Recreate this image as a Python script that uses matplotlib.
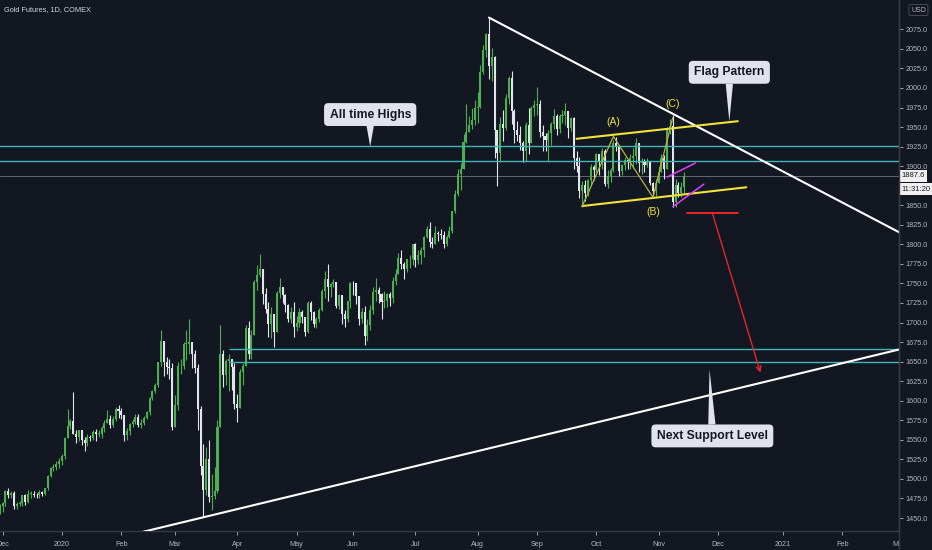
import numpy as np
import pandas as pd
import matplotlib
matplotlib.use('Agg')
import matplotlib.pyplot as plt
from matplotlib import font_manager
from matplotlib.lines import Line2D
from matplotlib.transforms import Bbox, TransformedBbox, blended_transform_factory

# daily bars of Gold futures, one row per week (Nov 2019 - Nov 2020)
first_open = 1452
close = [
    1456, 1461, 1455, 1465,
    1469, 1484, 1479, 1482, 1465,
    1468, 1469, 1479, 1471, 1481,
    1481, 1480, 1479, 1483, 1481,
    1488, 1504, 1514, 1515,
    1519, 1523, 1529, 1552,
    1568, 1574, 1557, 1554, 1562,
    1550, 1546, 1554, 1552, 1560,
    1558, 1558, 1565, 1571,
    1577, 1569, 1576, 1590, 1587,
    1582, 1556, 1561, 1570, 1573,
    1579, 1569, 1571, 1578, 1586,
    1603, 1612, 1620, 1649,
    1676, 1650, 1643, 1642, 1566,
    1594, 1644, 1645, 1673, 1673,
    1675, 1660, 1642, 1590, 1516,
    1486, 1526, 1477, 1478, 1484,
    1567, 1660, 1633, 1651, 1654,
    1643, 1596, 1591, 1637, 1645,
    1693, 1660, 1684, 1752,
    1761, 1769, 1737, 1717, 1698,
    1711, 1688, 1738, 1745, 1735,
    1723, 1705, 1713, 1694, 1700,
    1713, 1707, 1688, 1725, 1713,
    1698, 1704, 1716, 1740, 1756,
    1745, 1749, 1752, 1721, 1735,
    1711, 1705, 1727, 1751,
    1750, 1734, 1704, 1714, 1683,
    1697, 1716, 1739, 1742, 1737,
    1726, 1728, 1736, 1731, 1753,
    1762, 1782, 1775, 1768, 1781,
    1781, 1800, 1780, 1787,
    1793, 1809, 1820, 1803, 1801,
    1814, 1813, 1812, 1800, 1810,
    1817, 1843, 1865, 1890, 1897,
    1931, 1944, 1953, 1959, 1975,
    1976, 2021, 2049, 2069, 2028,
    2039, 1946, 1917, 1954, 1949,
    1987, 2013, 1970, 1946, 1940,
    1929, 1919, 1953, 1930, 1975,
    1978, 1979, 1944, 1938, 1934,
    1943, 1954, 1964, 1947,
    1964, 1966, 1970, 1949, 1962,
    1910, 1900, 1868, 1876, 1866,
    1882, 1899, 1895, 1916, 1907,
    1920, 1877, 1887, 1895, 1930,
    1925, 1894, 1901, 1908, 1906,
    1911, 1913, 1929, 1904, 1905,
    1901, 1907, 1878, 1868, 1879,
    1892, 1910, 1896, 1946, 1951,
    1854, 1876, 1866, 1873, 1887.6,
]
high = [
    1463, 1465, 1463, 1468,
    1471, 1486, 1488, 1485, 1485,
    1470, 1472, 1480, 1481, 1486,
    1484, 1484, 1482, 1486, 1484,
    1489, 1505, 1515, 1519,
    1523, 1527, 1532, 1553,
    1590, 1577, 1611, 1562, 1563,
    1563, 1553, 1558, 1556, 1563,
    1564, 1562, 1568, 1575,
    1588, 1582, 1580, 1592, 1594,
    1591, 1582, 1565, 1571, 1577,
    1583, 1583, 1576, 1580, 1587,
    1605, 1614, 1623, 1650,
    1691, 1677, 1656, 1653, 1648,
    1607, 1650, 1653, 1675, 1690,
    1704, 1673, 1665, 1647, 1593,
    1545, 1541, 1550, 1506, 1515,
    1575, 1697, 1665, 1654, 1660,
    1648, 1648, 1609, 1640, 1648,
    1697, 1702, 1690, 1755,
    1773, 1788, 1766, 1744, 1726,
    1720, 1711, 1740, 1757, 1745,
    1737, 1724, 1720, 1726, 1708,
    1719, 1716, 1705, 1728, 1727,
    1715, 1707, 1719, 1743, 1766,
    1775, 1750, 1756, 1751, 1737,
    1732, 1716, 1728, 1752,
    1753, 1749, 1727, 1719, 1721,
    1704, 1723, 1745, 1757, 1745,
    1738, 1740, 1738, 1739, 1758,
    1768, 1789, 1793, 1777, 1781,
    1786, 1801, 1802, 1793,
    1796, 1811, 1823, 1829, 1809,
    1823, 1817, 1819, 1817, 1812,
    1823, 1843, 1869, 1897, 1904,
    1941, 1980, 1964, 1975, 1985,
    1995, 2029, 2055, 2070, 2089,
    2051, 2041, 1945, 1963, 1972,
    1992, 2015, 2022, 1973, 1958,
    1951, 1932, 1956, 1974, 1977,
    1984, 2001, 1984, 1953, 1943,
    1946, 1957, 1973, 1967,
    1967, 1972, 1981, 1970, 1963,
    1963, 1919, 1912, 1881, 1882,
    1884, 1903, 1902, 1917, 1913,
    1923, 1922, 1895, 1898, 1933,
    1937, 1925, 1903, 1912, 1909,
    1916, 1923, 1936, 1930, 1910,
    1909, 1911, 1907, 1880, 1883,
    1900, 1915, 1914, 1950, 1960,
    1965, 1884, 1880, 1880, 1892,
]
low = [
    1451, 1453, 1452, 1455,
    1458, 1466, 1476, 1476, 1461,
    1462, 1465, 1466, 1467, 1469,
    1476, 1477, 1476, 1475, 1478,
    1479, 1486, 1503, 1510,
    1511, 1514, 1518, 1526,
    1553, 1564, 1560, 1546, 1548,
    1544, 1536, 1542, 1549, 1550,
    1548, 1554, 1552, 1560,
    1572, 1565, 1567, 1574, 1578,
    1576, 1549, 1550, 1556, 1566,
    1570, 1566, 1565, 1569, 1576,
    1582, 1601, 1610, 1618,
    1644, 1632, 1634, 1628, 1563,
    1572, 1588, 1634, 1640, 1652,
    1660, 1642, 1636, 1563, 1505,
    1451, 1479, 1470, 1460, 1474,
    1482, 1583, 1618, 1620, 1612,
    1614, 1590, 1573, 1594, 1620,
    1645, 1654, 1654, 1686,
    1742, 1758, 1724, 1712, 1681,
    1680, 1669, 1693, 1731, 1725,
    1714, 1701, 1699, 1682, 1689,
    1694, 1699, 1683, 1686, 1703,
    1694, 1693, 1701, 1715, 1732,
    1728, 1733, 1746, 1718, 1717,
    1698, 1694, 1701, 1718,
    1735, 1724, 1697, 1700, 1671,
    1676, 1690, 1711, 1727, 1725,
    1704, 1718, 1720, 1721, 1725,
    1748, 1762, 1769, 1756, 1765,
    1770, 1773, 1771, 1775,
    1775, 1784, 1808, 1796, 1795,
    1805, 1804, 1807, 1795, 1798,
    1808, 1815, 1840, 1862, 1870,
    1902, 1929, 1945, 1947, 1953,
    1955, 1974, 2018, 2040, 2012,
    2009, 1911, 1874, 1905, 1932,
    1946, 1980, 1954, 1930, 1932,
    1921, 1905, 1907, 1916, 1930,
    1964, 1965, 1937, 1920, 1919,
    1907, 1927, 1948, 1940,
    1943, 1955, 1952, 1936, 1945,
    1896, 1892, 1859, 1848, 1856,
    1862, 1877, 1882, 1892, 1889,
    1896, 1874, 1872, 1880, 1893,
    1920, 1887, 1889, 1895, 1897,
    1896, 1898, 1903, 1893, 1890,
    1893, 1899, 1876, 1860, 1862,
    1878, 1893, 1884, 1900, 1941,
    1848, 1848, 1860, 1861, 1866,
]

# drawings on the chart: (date, price)
ath_levels = [1926, 1907]
support_levels = [1666, 1649]
support_start = '2020-03-27'
last_price = 1887.6
countdown = '11:31:20'
down_trend = [('2020-08-07', 2090), ('2021-03-05', 1808)]
up_trend = [('2020-02-10', 1430), ('2021-03-05', 1669)]
flag_top = [('2020-09-22', 1935), ('2020-12-10', 1957.5)]
flag_bottom = [('2020-09-24', 1849), ('2020-12-15', 1873)]
abc_path = [('2020-09-24', 1849), ('2020-10-09', 1938), ('2020-10-29', 1860), ('2020-11-09', 1962)]
abc_labels = [('(A)', '2020-10-09', 1957), ('(B)', '2020-10-29', 1841), ('(C)', '2020-11-09', 1980)]
pink_top = [('2020-11-05', 1886), ('2020-11-19', 1904)]
pink_bottom = [('2020-11-09', 1848), ('2020-11-24', 1877)]
target_line = [('2020-11-16', 1840), ('2020-12-10', 1840)]
target_arrow = [('2020-11-27', 1840), ('2020-12-22', 1636)]
callouts = [
    ('All time Highs', '2020-06-09', 1966, '2020-06-09', 1925),
    ('Flag Pattern', '2020-12-07', 2020, '2020-12-07', 1957),
    ('Next Support Level', '2020-11-27', 1555, '2020-11-26', 1640),
]
price_ticks = np.arange(1450, 2076, 25)

# bar slots (holidays skipped in history, plain weekdays afterwards)
holidays = pd.to_datetime(['2019-11-28', '2019-12-25', '2020-01-01', '2020-01-20',
                           '2020-02-17', '2020-04-10', '2020-05-25', '2020-07-03', '2020-09-07'])
past = pd.bdate_range('2019-11-25', '2020-11-13')
past = past[~past.isin(holidays)]
future = pd.bdate_range('2020-11-16', '2021-03-31')
dates = past.append(future)


def bar(d):
    return dates.get_loc(pd.Timestamp(d))


names = {f.name for f in font_manager.fontManager.ttflist}
small_font = 'Liberation Sans Narrow' if 'Liberation Sans Narrow' in names else 'Liberation Sans'

bg = '#131722'
axis_col = '#363a45'
txt_col = '#b2b5be'
green = '#4caf50'
white = '#e3e5ea'

fig = plt.figure(figsize=(9.32, 5.5), dpi=100, facecolor=bg)
ax = fig.add_axes([0, 19 / 550, 899 / 932, 531 / 550], facecolor=bg)

c = np.array(close, float)
n = len(c)
o = np.concatenate([[first_open], c[:-1]])
h = np.maximum(np.array(high[:n], float), np.maximum(o, c))
l = np.minimum(np.array(low[:n], float), np.minimum(o, c))
idx = np.arange(n)
up = c >= o

for mask, col in [(up, green), (~up, white)]:
    ax.vlines(idx[mask], l[mask], h[mask], color=col, lw=0.8, zorder=2)
    ax.bar(idx[mask], np.maximum(np.abs(c - o), 0.8)[mask], bottom=np.minimum(o, c)[mask],
           width=0.72, color=col, lw=0, zorder=2)

# horizontal levels
for lv in ath_levels:
    ax.axhline(lv, color='#3fb6b8', lw=1.0, zorder=3)
for lv in support_levels:
    ax.hlines(lv, bar(support_start), 400, color='#3fb6b8', lw=1.0, zorder=3)
ax.axhline(last_price, color='#8a8d96', lw=0.6, alpha=0.8, zorder=1)


def seg(points, **kw):
    ax.plot([bar(d) for d, _ in points], [p for _, p in points], solid_capstyle='round', **kw)


seg(down_trend, color='white', lw=1.5, zorder=4)
seg(up_trend, color='white', lw=1.5, zorder=4)
seg(flag_top, color='#f0e43a', lw=1.5, zorder=4)
seg(flag_bottom, color='#f0e43a', lw=1.5, zorder=4)
seg(abc_path, color='#b8b43c', lw=0.9, zorder=4)
seg(pink_top, color='#e040fb', lw=1.1, zorder=4)
seg(pink_bottom, color='#e040fb', lw=1.1, zorder=4)
seg(target_line, color='#e5262b', lw=1.4, zorder=4)

(d0, p0), (d1, p1) = target_arrow
ax.annotate('', xy=(bar(d1), p1), xytext=(bar(d0), p0),
            arrowprops=dict(arrowstyle='->', color='#e5262b', lw=1.0, mutation_scale=9,
                            shrinkA=0, shrinkB=0), zorder=4)

for lab, d, p in abc_labels:
    ax.text(bar(d), p, lab, color='#f0e43a', fontsize=7.5, family='Liberation Sans',
            ha='center', va='center', zorder=5)

for txt, bd, bp, td, tp in callouts:
    ax.annotate(txt, xy=(bar(td), tp), xytext=(bar(bd), bp), ha='center', va='center',
                fontsize=8.7, fontweight='bold', family='Liberation Sans', color='#131722',
                bbox=dict(boxstyle='round,pad=0.45,rounding_size=0.35', fc='#e0e3eb', ec='none'),
                arrowprops=dict(arrowstyle='wedge,tail_width=0.6', fc='#e0e3eb', ec='none',
                                shrinkA=0, shrinkB=0), zorder=6)

# axes
ax.set_xlim(25 - 62 / 2.83, 25 + 837 / 2.83)
ax.set_ylim(1433.4, 2112.5)

month_ticks = []
month_labels = []
for i, d in enumerate(dates):
    if i == 0 or d.month != dates[i - 1].month:
        if i == 0 and d.day > 1:
            continue
        month_ticks.append(i)
        month_labels.append(str(d.year) if d.month == 1 else d.strftime('%b'))
ax.set_xticks(month_ticks)
ax.set_xticklabels(month_labels)

# the countdown box hides the 1875 label, as on the original
ax.yaxis.tick_right()
ax.set_yticks(price_ticks)
ax.set_yticklabels(['' if v == 1875 else f'{v:.1f}' for v in price_ticks])

ax.tick_params(colors=txt_col, labelsize=5.2, length=3, width=0.6)
ax.tick_params(axis='x', pad=4)
ax.tick_params(axis='y', pad=1.5)
for t in ax.get_xticklabels() + ax.get_yticklabels():
    t.set_family(small_font)
    t.set_color(txt_col)
for s in ['top', 'left']:
    ax.spines[s].set_visible(False)
for s in ['right', 'bottom']:
    ax.spines[s].set_color(axis_col)
    ax.spines[s].set_linewidth(1.0)

# keep month labels inside the time scale
clip = TransformedBbox(Bbox([[0, 0], [899 / 932, 1]]), fig.transFigure)
for t in ax.get_xticklabels():
    t.set_clip_box(clip)
    t.set_clip_on(True)
fig.add_artist(Line2D([899 / 932, 899 / 932], [0, 1], transform=fig.transFigure,
                      color=axis_col, lw=1.0))

# price scale labels
tr = blended_transform_factory(ax.transAxes, ax.transData)
ax.text(1.003, last_price, f'{last_price:.1f}', transform=tr, ha='left', va='center',
        fontsize=5.5, family=small_font, color='#131722', clip_on=False, zorder=7,
        bbox=dict(boxstyle='square,pad=0.3', fc='#f0f0f0', ec='none'))
ax.text(1.003, 1870.5, countdown, transform=tr, ha='left', va='center',
        fontsize=5.5, family=small_font, color='#131722', clip_on=False, zorder=7,
        bbox=dict(boxstyle='square,pad=0.3', fc='#f0f0f0', ec='none'))
fig.text(911 / 932, 1 - 10 / 550, 'USD', ha='left', va='center', fontsize=5,
         family=small_font, color=txt_col,
         bbox=dict(boxstyle='round,pad=0.3', fc=bg, ec='#50535e', lw=0.6))

fig.text(4 / 932, 1 - 10 / 550, 'Gold Futures, 1D, COMEX', ha='left', va='center',
         fontsize=5.3, family=small_font, color='#d1d4dc')

fig.savefig('out.png', dpi=100, facecolor=bg)
